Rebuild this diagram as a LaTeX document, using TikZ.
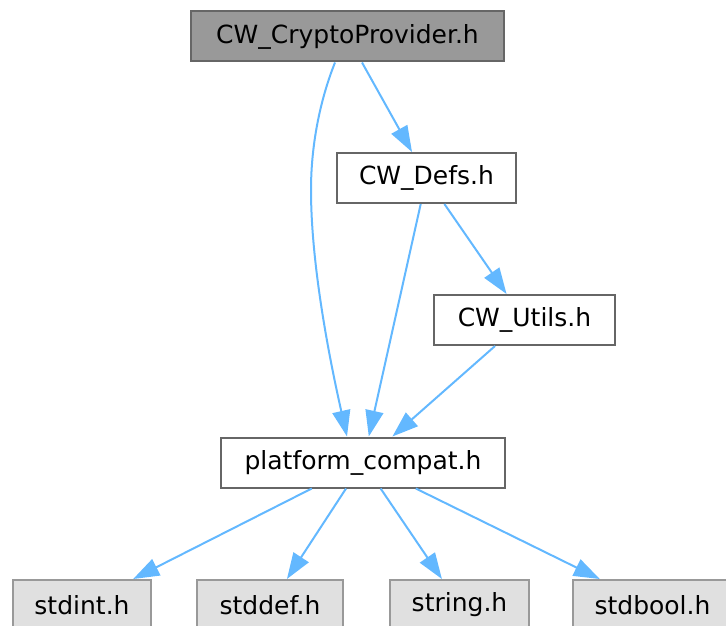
\documentclass[tikz,border=0pt]{standalone}
\usepackage{fontspec}
\setmainfont{DejaVu Sans}
\usetikzlibrary{arrows.meta}
\definecolor{edgeblue}{HTML}{63B8FF}
\definecolor{darkline}{HTML}{666666}
\definecolor{lightline}{HTML}{999999}
\definecolor{mainfill}{HTML}{999999}
\definecolor{sysfill}{HTML}{E0E0E0}
\begin{document}
\begin{tikzpicture}[x=1pt,y=-1pt,
  filebox/.style={rectangle, draw=darkline, line width=2pt, fill=white,
    minimum height=50pt, inner sep=0pt, text=black,
    font=\fontsize{25}{30}\selectfont},
  mainbox/.style={filebox, fill=mainfill},
  sysbox/.style={filebox, draw=lightline, fill=sysfill},
  dep/.style={draw=edgeblue, line width=2pt,
    -{Triangle[length=26pt,width=18pt]}}]
  \useasboundingbox (0,0) rectangle (726,626);
  \clip (0,0) rectangle (726,626);

  % header files
  \node[mainbox, minimum width=313pt] (crypto)   at (347.5,36.5) {CW\_CryptoProvider.h};
  \node[filebox, minimum width=179pt] (defs)     at (426.5,178)  {CW\_Defs.h};
  \node[filebox, minimum width=181pt] (utils)    at (524.5,320)  {CW\_Utils.h};
  \node[filebox, minimum width=284pt] (platform) at (363,462.5)  {platform\_compat.h};

  % system headers
  \node[sysbox, minimum width=138pt] (stdint)  at (82,605)    {stdint.h};
  \node[sysbox, minimum width=146pt] (stddef)  at (270,605)   {stddef.h};
  \node[sysbox, minimum width=139pt] (string)  at (459.5,605) {string.h};
  \node[sysbox, minimum width=159pt] (stdbool) at (652.5,605) {stdbool.h};

  % include edges
  \draw[dep] ([xshift=-12.5pt]crypto.south)
    .. controls (322,95) and (311,140) .. (311,190)
    .. controls (311,270) and (332,370) .. ([xshift=-16pt]platform.north);
  \draw[dep] (crypto) -- (defs);
  \draw[dep] (defs) -- (platform);
  \draw[dep] (defs) -- (utils);
  \draw[dep] (utils) -- (platform);
  \draw[dep] (platform) -- (stdint);
  \draw[dep] (platform) -- (stddef);
  \draw[dep] (platform) -- (string);
  \draw[dep] (platform) -- (stdbool);
\end{tikzpicture}
\end{document}
